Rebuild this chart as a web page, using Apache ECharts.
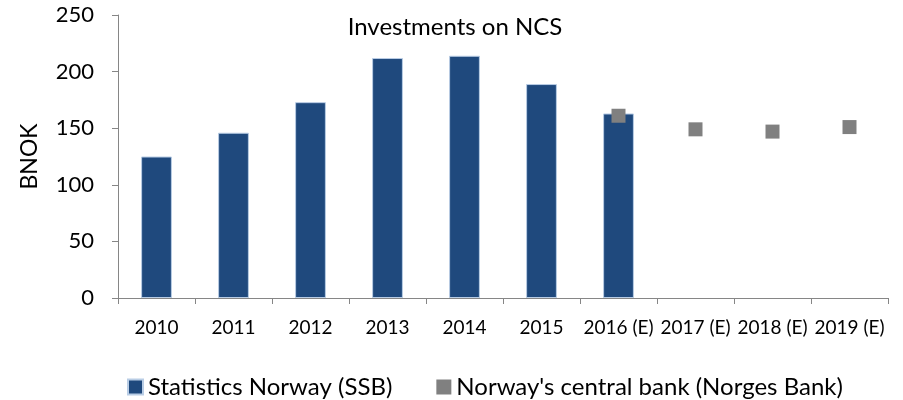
<!DOCTYPE html>
<html><head><meta charset="utf-8">
<script src="https://cdn.jsdelivr.net/npm/echarts@6/dist/echarts.min.js"></script>
<style>html,body{margin:0;padding:0;background:#fff}#c{width:903px;height:400px}</style>
</head><body><div id="c"></div>
<script>
const categories = ['2010','2011','2012','2013','2014','2015','2016 (E)','2017 (E)','2018 (E)','2019 (E)'];
const ssbValues = [125, 146, 173, 212, 214, 189, 163, null, null, null];
const norgesBankValues = [null, null, null, null, null, null, 161, 149, 147, 151];
const yTicks = [0, 50, 100, 150, 200, 250];

const FONT = 'Lato';
const chart = echarts.init(document.getElementById('c'), null, {renderer: 'canvas'});
chart.setOption({
  animation: false,
  textStyle: {fontFamily: FONT},
  title: {
    text: 'Investments on NCS', left: 450, top: 10, textAlign: 'center',
    textStyle: {fontFamily: FONT, fontSize: 24, fontWeight: 'normal', color: '#000'}
  },
  grid: {left: 118, right: 15, top: 15, bottom: 102, containLabel: false},
  legend: {
    top: 370, left: 122, itemWidth: 15, itemHeight: 15, itemGap: 44,
    icon: 'rect',
    textStyle: {fontFamily: FONT, fontSize: 24, color: '#000'},
    data: ['Statistics Norway (SSB)', "Norway's central bank (Norges Bank)"]
  },
  xAxis: {
    type: 'category', data: categories, boundaryGap: true,
    axisLine: {lineStyle: {color: '#868686', width: 1}},
    axisTick: {show: true, alignWithLabel: false, length: 6, lineStyle: {color: '#868686'}},
    axisLabel: {fontFamily: FONT, fontSize: 19, color: '#000', margin: 20, interval: 0}
  },
  yAxis: {
    type: 'value', min: yTicks[0], max: yTicks[yTicks.length - 1], interval: 50,
    name: 'BNOK', nameLocation: 'middle', nameGap: 77, nameRotate: 90,
    nameTextStyle: {fontFamily: FONT, fontSize: 23, color: '#000'},
    axisLine: {show: true, lineStyle: {color: '#868686', width: 1}},
    axisTick: {show: true, length: 6, lineStyle: {color: '#868686'}},
    splitLine: {show: false},
    axisLabel: {fontFamily: FONT, fontSize: 22, color: '#000', margin: 24}
  },
  series: [
    {
      name: 'Statistics Norway (SSB)', type: 'bar', data: ssbValues,
      barWidth: '40%',
      itemStyle: {color: '#1F497D', borderColor: '#B9CDE5', borderWidth: 1}
    },
    {
      name: "Norway's central bank (Norges Bank)", type: 'scatter', data: norgesBankValues,
      symbol: 'rect', symbolSize: 14,
      itemStyle: {color: '#808080', opacity: 1}
    }
  ]
});
</script></body></html>
